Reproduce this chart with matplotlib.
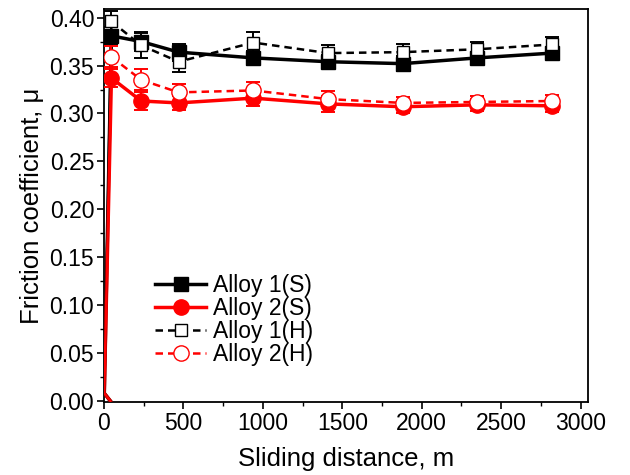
import matplotlib
matplotlib.use("Agg")
import matplotlib.pyplot as plt
from matplotlib.ticker import MultipleLocator

plt.rcParams['font.family'] = ['Liberation Sans', 'DejaVu Sans']

distance = [47, 235, 470, 940, 1410, 1880, 2350, 2820]
alloy1_s = [0.381, 0.375, 0.364, 0.358, 0.354, 0.352, 0.358, 0.363]
alloy1_s_err = [0.009, 0.010, 0.009, 0.007, 0.007, 0.008, 0.006, 0.006]
alloy2_s = [0.337, 0.313, 0.311, 0.316, 0.310, 0.307, 0.309, 0.308]
alloy2_s_err = [0.009, 0.009, 0.007, 0.008, 0.008, 0.006, 0.006, 0.006]
alloy1_h = [0.396, 0.371, 0.354, 0.374, 0.363, 0.364, 0.367, 0.372]
alloy1_h_err = [0.011, 0.013, 0.011, 0.011, 0.008, 0.008, 0.008, 0.008]
alloy2_h = [0.359, 0.335, 0.322, 0.324, 0.315, 0.311, 0.312, 0.313]
alloy2_h_err = [0.011, 0.011, 0.009, 0.009, 0.008, 0.006, 0.006, 0.006]

# run-in segment at the start of each test
run_in_x = [40, 2]
run_in_y = [0.0, 0.008]

fig = plt.figure(figsize=(6.3, 4.75), dpi=100)
ax = fig.add_axes([0.165, 0.154, 0.768, 0.827])

series = [
    ("Alloy 1(S)", alloy1_s, alloy1_s_err, 'black', '-', 's', 'black', 10),
    ("Alloy 2(S)", alloy2_s, alloy2_s_err, 'red', '-', 'o', 'red', 11),
    ("Alloy 1(H)", alloy1_h, alloy1_h_err, 'black', '--', 's', 'white', 9),
    ("Alloy 2(H)", alloy2_h, alloy2_h_err, 'red', '--', 'o', 'white', 11),
]

order = [2, 0, 3, 1]
handles = {}
for i in order:
    label, y, err, color, ls, mk, mfc, ms = series[i]
    ax.plot(run_in_x + [distance[0]], run_in_y + [y[0]], color=color,
            lw=2.5 if ls == '-' else 1.8, ls='-', zorder=2 + i)
    ax.errorbar(distance, y, yerr=err, color=color, ls='none', capsize=5,
                elinewidth=1.4, capthick=1.4, zorder=3 + i)
    kw = {}
    if ls == '--':
        kw['dashes'] = (3, 2)
    h, = ax.plot(distance, y, color=color, ls=ls,
                 lw=2.5 if ls == '-' else 1.8,
                 marker=mk, markersize=ms, markerfacecolor=mfc,
                 markeredgecolor=color, markeredgewidth=1.0, zorder=4 + i,
                 label=label, **kw)
    handles[i] = h

ax.set_xlim(0, 3045)
ax.set_ylim(-0.001, 0.409)
ax.xaxis.set_major_locator(MultipleLocator(500))
ax.xaxis.set_minor_locator(MultipleLocator(250))
ax.yaxis.set_major_locator(MultipleLocator(0.05))
ax.yaxis.set_minor_locator(MultipleLocator(0.025))
ax.yaxis.set_major_formatter(matplotlib.ticker.FormatStrFormatter('%.2f'))
ax.tick_params(which='major', direction='out', length=5, width=1.2,
               labelsize=16.5, pad=2)
ax.tick_params(which='minor', direction='out', length=3, width=1.0)
for s in ax.spines.values():
    s.set_linewidth(1.3)

ax.set_xlabel("Sliding distance, m", fontsize=18.5, labelpad=9)
ax.set_ylabel("Friction coefficient, μ", fontsize=18.5, labelpad=4)

leg = ax.legend([handles[0], handles[1], handles[2], handles[3]],
                ["Alloy 1(S)", "Alloy 2(S)", "Alloy 1(H)", "Alloy 2(H)"],
                loc='lower left', bbox_to_anchor=(0.073, 0.05), frameon=False,
                fontsize=16.5, handlelength=2.2, handletextpad=0.3,
                labelspacing=0.0, borderpad=0.2)

fig.savefig("out.png", dpi=100)
